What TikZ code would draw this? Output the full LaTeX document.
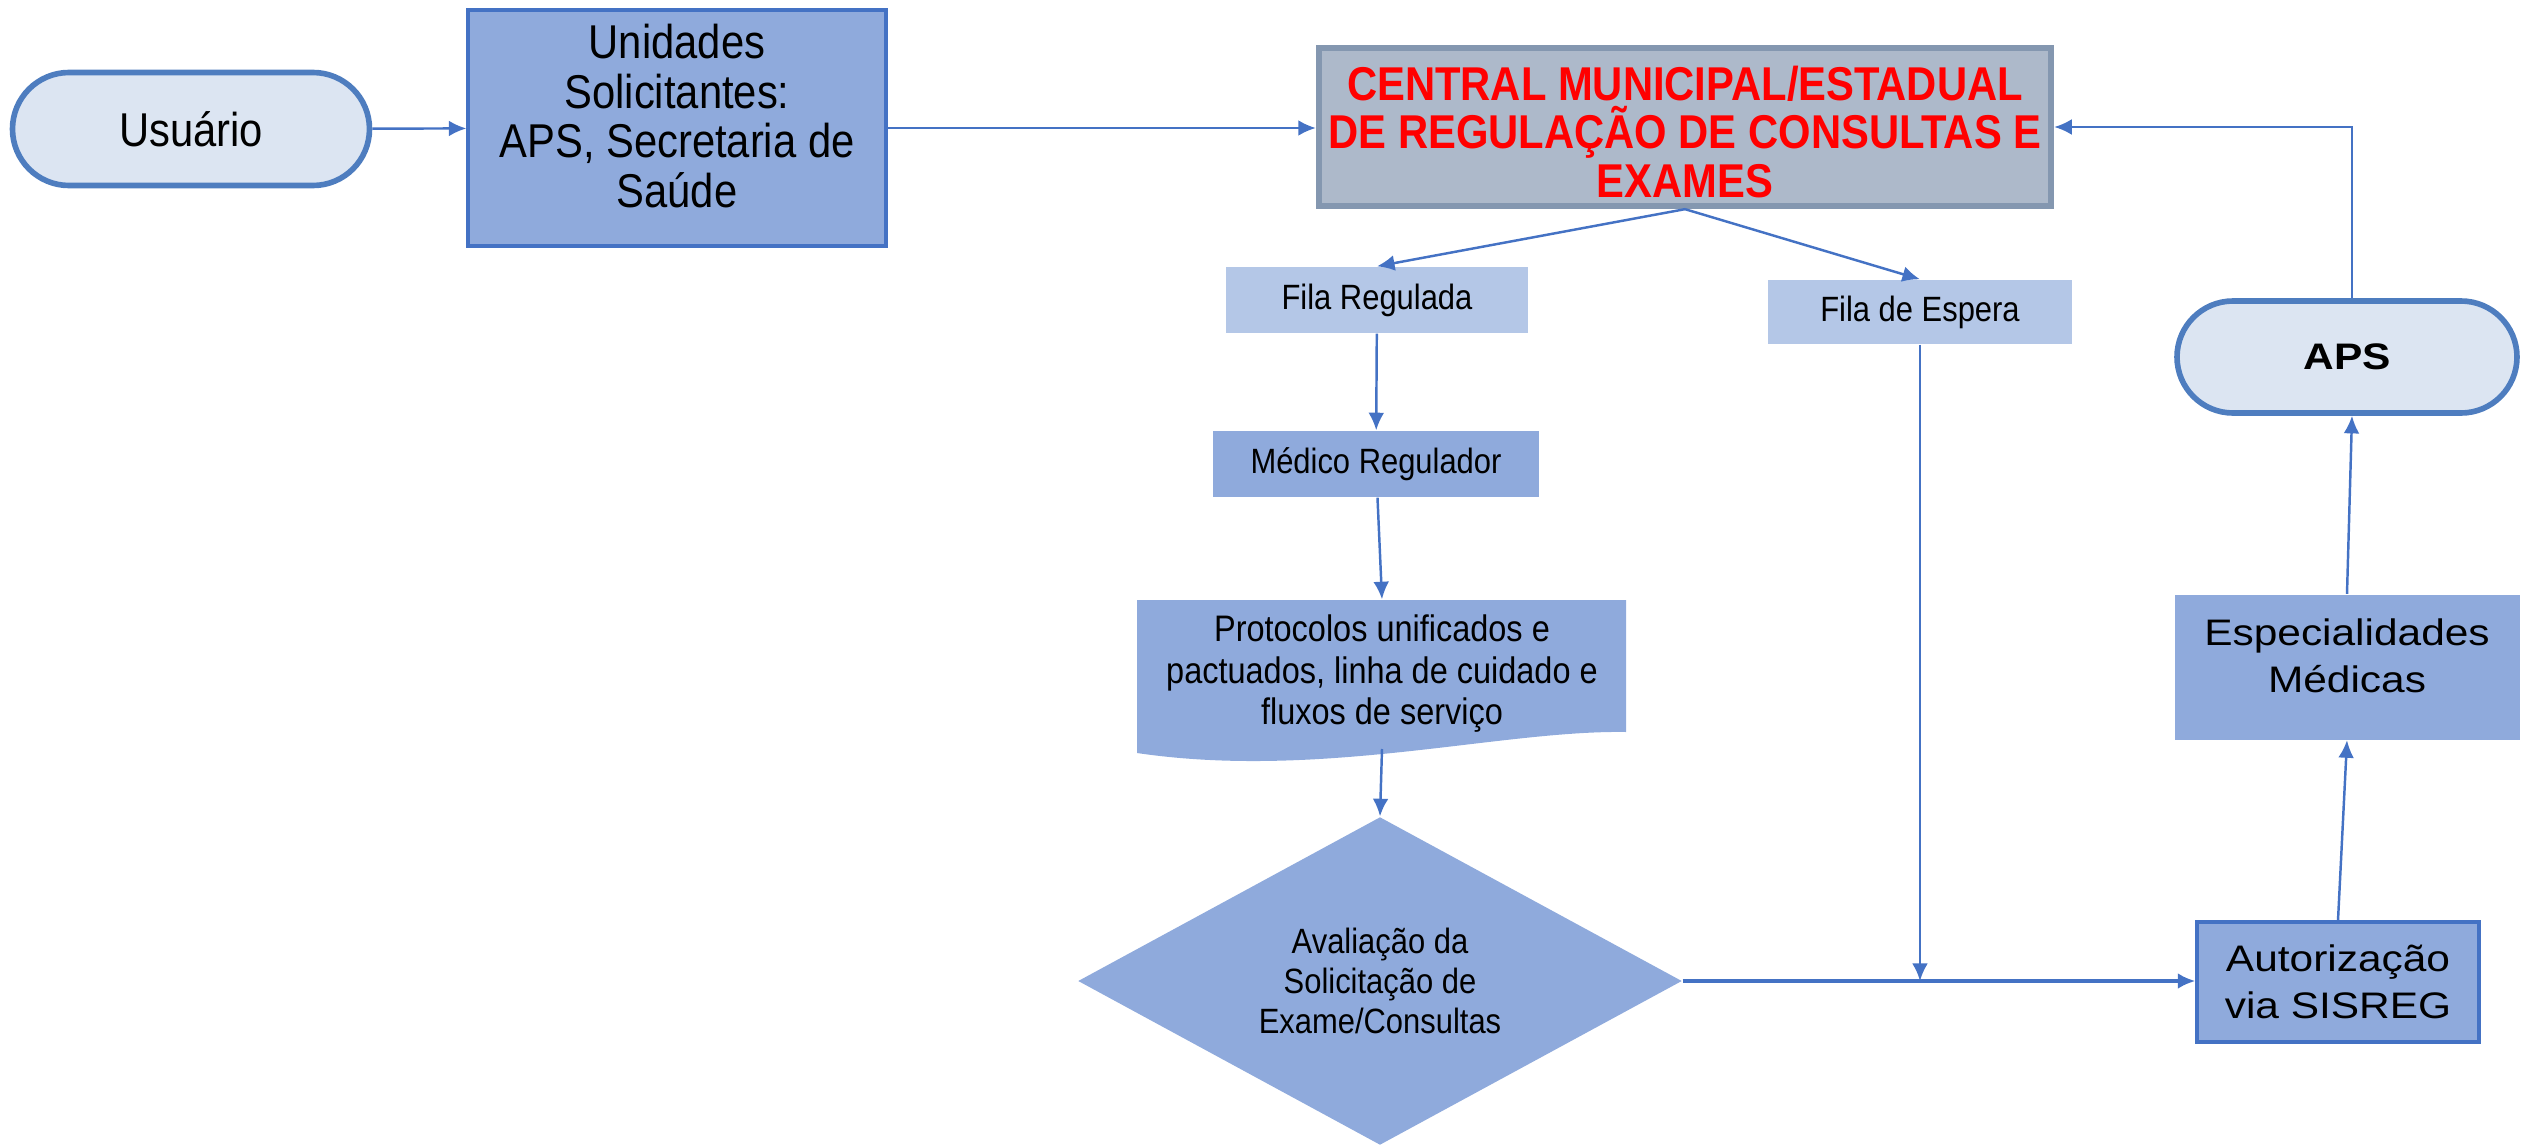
\documentclass[tikz,border=0pt]{standalone}
\usepackage{fontspec}
\setmainfont{Liberation Sans}
\newfontfamily\narrowfont[FakeStretch=0.88]{Liberation Sans}
\newfontfamily\widefont[FakeStretch=1.15]{Liberation Sans}
\usetikzlibrary{arrows.meta,shapes.geometric,shapes.misc}
\definecolor{lineblue}{HTML}{4472C4}
\definecolor{termline}{HTML}{4E7DBF}
\definecolor{termfill}{HTML}{DCE5F2}
\definecolor{boxfill}{HTML}{8FAADC}
\definecolor{lightfill}{HTML}{B4C7E7}
\definecolor{centralfill}{HTML}{ADB9CA}
\definecolor{centralline}{HTML}{8497B0}
\tikzset{
  >={Latex[length=5pt,width=4.5pt]},
}
\tikzstyle{flow}=[->,draw=lineblue,line width=0.7pt]
\tikzstyle{term}=[rounded rectangle,draw=termline,line width=1.6pt,fill=termfill,inner sep=0pt]
\tikzstyle{box}=[rectangle,fill=boxfill,inner sep=0pt,align=center]
\tikzstyle{lightbox}=[rectangle,fill=lightfill,inner sep=0pt,align=center]
\tikzstyle{bigtxt}=[font=\narrowfont\fontsize{13.5}{14.2}\selectfont]
\tikzstyle{smalltxt}=[font=\narrowfont\fontsize{10}{11.5}\selectfont]
\tikzstyle{widetxt}=[font=\widefont\fontsize{10.5}{13.5}\selectfont]

\begin{document}
\begin{tikzpicture}
        \useasboundingbox (0,0) rectangle (25.22,-11.46);
        \node[term,bigtxt,minimum width=3.57cm,minimum height=1.13cm] (usuario) at (1.91,-1.29) {Usuário};
        \node[box,draw=lineblue,line width=0.9pt,minimum width=4.18cm,minimum height=2.36cm] (unidades) at (6.77,-1.28) {};
        \node[bigtxt,align=center] at (6.77,-1.16) {Unidades\\Solicitantes:\\APS, Secretaria de\\Saúde};
        \node[rectangle,fill=centralfill,draw=centralline,line width=1.8pt,minimum width=7.32cm,minimum height=1.58cm,align=center,text=red,font=\narrowfont\bfseries\fontsize{13.5}{13.8}\selectfont] (central) at (16.85,-1.27) {};
        \node[align=center,text=red,font=\narrowfont\bfseries\fontsize{13.5}{13.8}\selectfont] at (16.85,-1.32) {CENTRAL MUNICIPAL/ESTADUAL\\DE REGULAÇÃO DE CONSULTAS E\\EXAMES};
        \node[lightbox,smalltxt,minimum width=3.02cm,minimum height=0.66cm] (filareg) at (13.77,-3.00) {Fila Regulada};
        \node[lightbox,smalltxt,minimum width=3.04cm,minimum height=0.64cm] (filaesp) at (19.20,-3.12) {Fila de Espera};
        \node[box,smalltxt,minimum width=3.26cm,minimum height=0.66cm] (medico) at (13.76,-4.64) {Médico Regulador};
        \fill[boxfill] (11.37,-6.00) -- (16.26,-6.00) -- (16.26,-7.32) .. controls (15.00,-7.30) and (13.20,-7.80) .. (11.37,-7.53) -- cycle;
        \node[minimum width=4.89cm,minimum height=1.32cm,inner sep=0pt] (protocolos) at (13.82,-6.66) {};
        \node[font=\narrowfont\fontsize{10.5}{11.8}\selectfont,align=center] at (13.82,-6.74) {Protocolos unificados e\\pactuados, linha de cuidado e\\fluxos de serviço};
        \coordinate (protbase) at (13.82,-7.49);
        \node[diamond,fill=boxfill,aspect=1.84,minimum width=6.04cm,minimum height=3.28cm,inner sep=0pt,smalltxt,align=center] (aval) at (13.80,-9.81) {Avaliação da\\Solicitação de\\Exame/Consultas};
        \node[box,widetxt,draw=lineblue,line width=0.9pt,minimum width=2.82cm,minimum height=1.2cm] (auto) at (23.38,-9.82) {Autorização\\via SISREG};
        \node[box,minimum width=3.45cm,minimum height=1.45cm] (espec) at (23.47,-6.67) {};
        \node[widetxt,align=center] at (23.47,-6.56) {Especialidades\\Médicas};
        \node[term,font=\widefont\bfseries\fontsize{10.5}{12}\selectfont,minimum width=3.40cm,minimum height=1.12cm] (aps) at (23.47,-3.57) {APS};
        % connectors
        \draw[flow] (usuario) -- (unidades);
        \draw[flow] (unidades.east) -- (unidades.east -| central.west);
        \draw[flow] (central.south) -- (filareg.north);
        \draw[flow] (central.south) -- (filaesp.north);
        \draw[flow] (filareg) -- (medico);
        \draw[flow] (medico) -- (protocolos.north);
        \draw[flow] (protbase) -- (aval.north);
        \draw[flow,line width=1pt] (aval.east) -- (aval.east -| auto.west);
        \draw[flow] (filaesp.south) -- (filaesp.south |- aval.east);
        \draw[flow] (auto.north) -- (espec.south);
        \draw[flow] (espec.north) -- ([xshift=0.05cm]aps.south);
        \draw[flow] ([xshift=0.05cm]aps.north) |- (central.east);
      \end{tikzpicture}
\end{document}
